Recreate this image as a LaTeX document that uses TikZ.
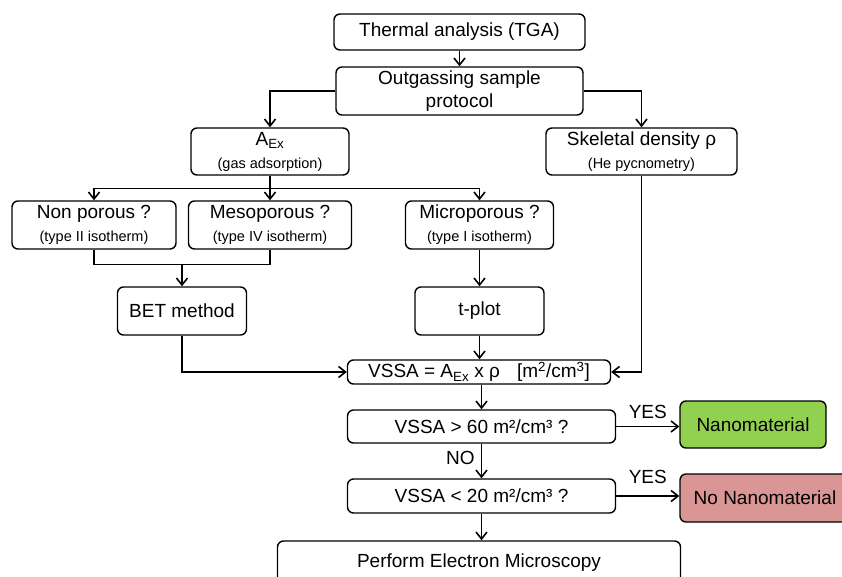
\documentclass[tikz,border=0pt]{standalone}
\usepackage{fontspec}
\setmainfont{Liberation Sans}
\usetikzlibrary{arrows.meta}
\definecolor{nanogreen}{RGB}{146,208,80}
\definecolor{nonanored}{RGB}{217,150,148}
\newcommand{\smalltxt}[1]{{\fontsize{14.5}{17}\selectfont #1}}

\begin{document}
\begin{tikzpicture}[x=1pt,y=-1pt]
        \tikzstyle{box}=[draw=black,line width=1.4pt,rounded corners=6pt,inner sep=0pt,align=center,font=\fontsize{19}{23}\selectfont]
        \tikzstyle{line}=[line width=1.6pt]
        \tikzstyle{link}=[line width=1.6pt,-{Straight Barb[length=7pt,width=11pt]}]
        \tikzstyle{answer}=[inner sep=0pt,font=\fontsize{19}{22}\selectfont]
        \clip (0,0) rectangle (842,577);
        \fill[white] (0,0) rectangle (842,577);
        \node[box,minimum width=251pt,minimum height=36pt] (tga) at (459.5,32) {Thermal analysis (TGA)};
        \node[box,minimum width=247pt,minimum height=48pt] (outgas) at (459.5,91) {Outgassing sample\\protocol};
        \node[box,minimum width=158pt,minimum height=47pt] (aex) at (270,151.5) {A\textsubscript{Ex}\\\smalltxt{(gas adsorption)}};
        \node[box,minimum width=191pt,minimum height=47pt] (skel) at (641.5,151.5) {Skeletal density ρ\\\smalltxt{(He pycnometry)}};
        \node[box,minimum width=164pt,minimum height=48pt] (nonpor) at (94,225) {Non porous ?\\\smalltxt{(type II isotherm)}};
        \node[box,minimum width=163pt,minimum height=48pt] (meso) at (270,225) {Mesoporous ?\\\smalltxt{(type IV isotherm)}};
        \node[box,minimum width=148pt,minimum height=48pt] (micro) at (479.5,225) {Microporous ?\\\smalltxt{(type I isotherm)}};
        \node[box,minimum width=129pt,minimum height=48pt] (bet) at (182,311) {BET method};
        \node[box,minimum width=129pt,minimum height=48pt] (tplot) at (479.5,311) {t-plot};
        \node[box,minimum width=263pt,minimum height=24pt] (vssa) at (479,372) {VSSA = A\textsubscript{Ex} x ρ\hspace{17pt}[m\textsuperscript{2}/cm\textsuperscript{3}]};
        \node[box,minimum width=268pt,minimum height=33pt] (big) at (481.5,426.5) {VSSA > 60 m²/cm³ ?};
        \node[box,minimum width=146pt,minimum height=47pt,fill=nanogreen] (nano) at (753,424.5) {Nanomaterial};
        \node[box,minimum width=268pt,minimum height=34pt] (small) at (481.5,496) {VSSA < 20 m²/cm³ ?};
        \node[box,minimum width=170pt,minimum height=48pt,fill=nonanored] (nonano) at (765,498) {No Nanomaterial};
        \node[box,minimum width=403pt,minimum height=44pt] (tem) at (479,563) {Perform Electron Microscopy};
        % junctions
        \path (aex.south) ++(0,13) coordinate (split);
        \path (bet.north) ++(0,-22) coordinate (merge);
        \draw[link] (tga) -- (outgas);
        \draw[link] (outgas.west) -| (aex.north);
        \draw[link] (outgas.east) -| (skel.north);
        \draw[line] (aex.south) -- (split);
        \draw[link] (split) -| (nonpor.north);
        \draw[link] (split) -- (meso.north);
        \draw[link] (split) -| (micro.north);
        \draw[line] (nonpor.south) |- (merge) -| (meso.south);
        \draw[link] (merge) -- (bet.north);
        \draw[link] (micro) -- (tplot);
        \draw[link] (bet.south) |- (vssa.west);
        \draw[link] (tplot.south) -- (tplot.south |- vssa.north);
        \draw[link] (skel.south) |- (vssa.east);
        \draw[link] (vssa.south -| big.north) -- (big.north);
        \draw[link] (big.east) -- (big.east -| nano.west) node[answer,midway,above=7pt] {YES};
        \draw[link] (big) -- (small) node[answer,pos=0.4,left=6pt] {NO};
        \draw[link] (small.east) -- (small.east -| nonano.west) node[answer,midway,above=12pt] {YES};
        \draw[link] (small.south) -- (small.south |- tem.north);
    \end{tikzpicture}
\end{document}
